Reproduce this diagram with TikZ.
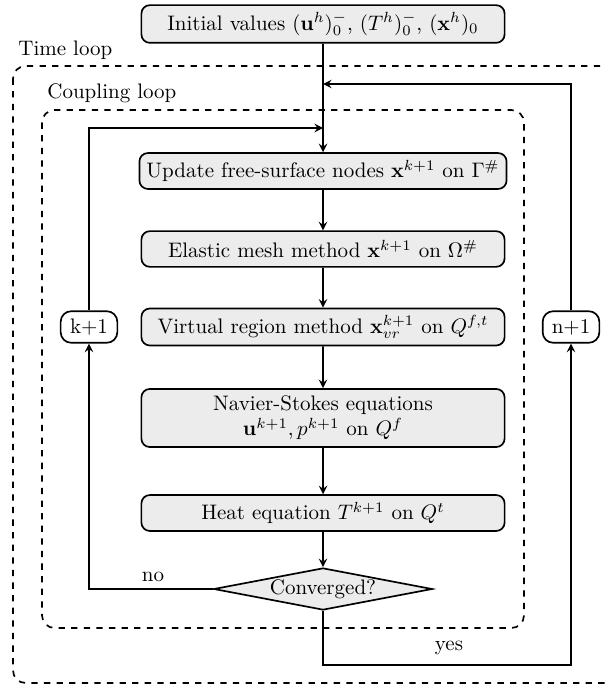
\documentclass[tikz,border=0pt]{standalone}
\usetikzlibrary{shapes.geometric}

\begin{document}
\begin{tikzpicture}[scale=0.1674,
  stepbox/.style={draw, thick, rounded corners=4pt, fill=gray!15, minimum width=173pt, minimum height=17pt, align=center},
  counter/.style={draw, thick, rounded corners=5pt, fill=white, minimum width=27pt, minimum height=15pt, inner sep=2pt},
  test/.style={draw, thick, diamond, aspect=5.2, fill=gray!15, inner sep=0.5pt},
  loop/.style={dashed, thick, rounded corners=6pt},
  flow/.style={->, >=stealth, thick}]
\useasboundingbox (0,0) rectangle (60.5,-68.5);
\draw [loop] (1.3,-6.6) rectangle (63,-68.3);
\draw [loop] (4.2,-11) rectangle (52.4,-62.8);
\node [anchor=west] (tl) at (1.1,-5) {Time loop};
\node [anchor=west] (cl) at (4,-9.3) {Coupling loop};
\node [stepbox] (init) at (32.3,-2.4) {Initial values $(\mathbf{u}^h)_0^-$, $(T^h)_0^-$, $(\mathbf{x}^h)_0$};
\node [stepbox] (surf) at (32.3,-17.1) {Update free-surface nodes $\mathbf{x}^{k+1}$ on $\Gamma^\#$};
\node [stepbox] (mesh) at (32.3,-24.9) {Elastic mesh method $\mathbf{x}^{k+1}$ on $\Omega^\#$};
\node [stepbox] (virt) at (32.3,-32.7) {Virtual region method $\mathbf{x}_{vr}^{k+1}$ on $Q^{f,t}$};
\node [stepbox, minimum height=27pt] (ns) at (32.3,-41.8) {Navier-Stokes equations\\ $\mathbf{u}^{k+1}, p^{k+1}$ on $Q^f$};
\node [stepbox] (heat) at (32.3,-51.3) {Heat equation $T^{k+1}$ on $Q^t$};
\node [test] (conv) at (32.3,-58.9) {Converged?};
\node [counter] (kinc) at (8.9,-32.7) {k+1};
\node [counter] (ninc) at (57.1,-32.7) {n+1};
\coordinate (kin) at (32.3,-12.8);
\coordinate (nin) at (32.3,-8.4);
\coordinate (turn) at (57.1,-66.5);
\draw [flow] (init) -- (surf);
\draw [flow] (surf) -- (mesh);
\draw [flow] (mesh) -- (virt);
\draw [flow] (virt) -- (ns);
\draw [flow] (ns) -- (heat);
\draw [flow] (heat) -- (conv);
\draw [flow] (conv.west) -| (kinc);
\draw [flow] (kinc) |- (kin);
\draw [flow] (conv.south) |- (turn) -- (ninc);
\draw [flow] (ninc) |- (nin);
\node (no) at (15.3,-57.7) {no};
\node (yes) at (44.9,-64.8) {yes};
\end{tikzpicture}
\end{document}
